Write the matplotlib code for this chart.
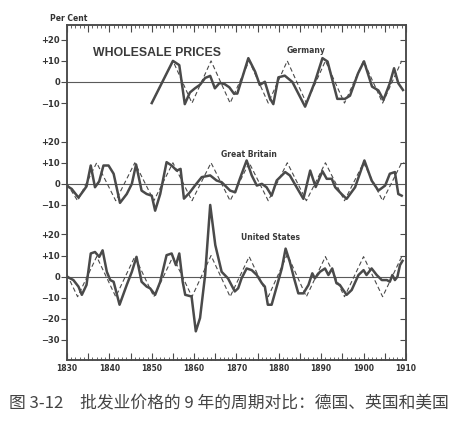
import numpy as np
import matplotlib.pyplot as plt
import matplotlib.ticker as mticker

plt.rcParams['font.family'] = ['DejaVu Sans', 'Noto Sans CJK SC']

de_years = [1850.0, 1855.0, 1856.5, 1857.8, 1859.0, 1860.2, 1861.4, 1862.6, 1863.8,
            1864.9, 1866.0, 1867.2, 1868.3, 1869.4, 1870.2, 1872.8, 1874.4, 1875.5,
            1876.7, 1877.9, 1878.7, 1879.9, 1881.4, 1883.2, 1886.2, 1888.5, 1890.3,
            1891.5, 1893.8, 1895.6, 1896.8, 1898.7, 1900.1, 1902.0, 1903.5, 1904.7,
            1906.2, 1907.2, 1908.2, 1909.3]
de_values = [-10, 10, 8, -10.5, -5, -3, -1.3, 1.9, 2.9,
             -3, -0.5, -1, -2.5, -5.5, -5.5, 11.3, 4.9, -1.4,
             0.1, -7.8, -10.5, 2.2, 3, 0, -11.7, 0, 11.3,
             9.7, -8, -8, -6.5, 4.1, 9.8, -2.2, -4, -8.5,
             -0.6, 6.5, -0.6, -3.8]
# Germany, 9-year cycle (dashed)
de_cyc_years = [1850, 1855, 1859.5, 1864, 1868.5, 1873, 1877.5, 1882, 1886.5,
                1891, 1895.5, 1900, 1904.5, 1909]
de_cyc_values = [-10, 10, -10, 10, -10, 10, -10, 10, -10, 10, -10, 10, -10, 10]

# Great Britain
gb_years = [1830.0, 1831.1, 1832.7, 1833.9, 1834.6, 1835.6, 1836.6, 1837.6, 1838.6,
            1839.8, 1841.0, 1842.5, 1844.1, 1845.3, 1846.3, 1847.6, 1848.8, 1850.0,
            1850.8, 1852.0, 1853.5, 1854.7, 1855.9, 1856.8, 1857.6, 1859.0, 1860.2,
            1861.8, 1863.8, 1865.3, 1866.5, 1868.5, 1869.7, 1870.8, 1872.4, 1873.6,
            1874.8, 1876.0, 1877.1, 1878.3, 1879.5, 1880.7, 1881.5, 1882.6, 1884.2,
            1885.8, 1887.4, 1888.7, 1890.3, 1891.3, 1892.5, 1893.3, 1894.8, 1896.0,
            1898.0, 1900.2, 1901.9, 1903.5, 1905.1, 1906.2, 1907.4, 1908.2, 1909.0]
gb_values = [-1, -2.4, -6.5, -3.2, -1.2, 8.7, -1.6, 1.2, 8.7,
             8.7, 4.8, -9, -4.8, 0, 9.2, -3.2, -4.8, -5.6,
             -12.7, -4.8, 10.3, 8.7, 6.3, 7.1, -7, -4, -0.8,
             3.2, 4, 1.6, 0.8, -3.2, -4, 2.4, 11.1, 4,
             -0.8, 0, -1.6, -5.6, 1.6, 4, 5.6, 4, -1.6,
             -7.1, 6.3, -1.5, 6, 2.4, 2.4, -1.6, -4.8, -7.1,
             -1.6, 11.1, 1.6, -3.2, -0.8, 4.8, 5.6, -4.8, -5.6]
gb_cyc_years = [1830, 1832.5, 1837, 1841.5, 1846, 1850.5, 1855, 1859.5, 1864, 1868.5,
                1873, 1877.5, 1882, 1886.5, 1891, 1895.5, 1900, 1904.5, 1909, 1909.6]
gb_cyc_values = [0, -8, 10, -8, 10, -8, 10, -8, 10, -8,
                 10, -8, 10, -8, 10, -8, 10, -8, 10, 10]

# United States
us_years = [1830.0, 1831.5, 1832.7, 1833.5, 1834.6, 1835.6, 1836.6, 1837.6, 1838.4,
            1839.4, 1840.2, 1841.0, 1842.4, 1844.1, 1845.3, 1846.4, 1847.6, 1848.8,
            1849.6, 1850.8, 1852.0, 1853.5, 1854.7, 1855.7, 1856.5, 1857.3, 1857.9,
            1859.4, 1860.4, 1861.4, 1862.6, 1863.8, 1865.0, 1866.5, 1868.0, 1869.6,
            1870.4, 1871.2, 1872.4, 1873.6, 1874.8, 1876.0, 1876.7, 1877.4, 1878.3,
            1879.5, 1880.7, 1881.6, 1882.6, 1883.6, 1884.6, 1885.8, 1887.0, 1887.9,
            1888.5, 1889.7, 1890.9, 1891.7, 1892.6, 1893.6, 1894.4, 1895.2, 1896.0,
            1897.2, 1898.8, 1900.0, 1900.7, 1901.9, 1903.1, 1904.3, 1905.5, 1906.2,
            1906.8, 1907.4, 1908.0, 1908.6, 1909.2]
us_values = [0, -1.6, -4.7, -8.6, -3.9, 11, 11.7, 9.4, 12.5,
             2.3, -1.6, -2.4, -13.3, -3.9, 2.3, 9.4, -2.4, -4.7,
             -5.5, -8.6, -2.4, 10.2, 11, 5.5, 11, -2.4, -8.6,
             -9.4, -25.9, -19.6, 0.8, 34, 15, 2.3, -0.8, -7,
             -5.5, -0.8, 3.9, 3.1, 0.8, -3.1, -4.7, -13.3, -13.3,
             -4.7, 3.9, 13.3, 7, -0.8, -7.9, -7.9, -3.9, 1.6,
             -0.8, 2.3, 3.9, 0.8, 3.9, -3.1, -3.9, -6.3, -8.6,
             -6.3, 0.8, 3.1, 0.8, 3.9, 0.8, -1.6, -1.6, -2.4,
             0.8, -1.6, 0, 5.5, 7.5]
us_cyc_years = [1830, 1832.5, 1837, 1841.5, 1846, 1850.5, 1855, 1859.5, 1864, 1868.5,
                1873, 1877.5, 1882, 1886.5, 1891, 1895.5, 1900, 1904.5, 1909, 1909.6]
us_cyc_values = [1, -9.5, 9.5, -9.5, 9.5, -9.5, 9.5, -9.5, 10, -9.5,
                 9.5, -9.5, 10.5, -9.5, 9.5, -9.5, 9.5, -9.5, 9.5, 9.5]

# panel baselines on a common scale
offsets = {'de': 92.3, 'gb': 44.0, 'us': 0.0}
de_ticks = [20, 10, 0, -10]
gb_ticks = [20, 10, 0, -10]
us_ticks = [20, 10, 0, -10, -20, -30]

ink = '#4a4a4a'
fig = plt.figure(figsize=(4.72, 4.36), dpi=100)
ax = fig.add_axes([0.142, 0.1743, 0.718, 0.7683])

series = [
    (de_years, de_values, de_cyc_years, de_cyc_values, offsets['de']),
    (gb_years, gb_values, gb_cyc_years, gb_cyc_values, offsets['gb']),
    (us_years, us_values, us_cyc_years, us_cyc_values, offsets['us']),
]
for yrs, vals, cyrs, cvals, off in series:
    ax.axhline(off, color='#5a5a5a', lw=0.8, zorder=1)
    ax.plot(cyrs, np.array(cvals) + off, color=ink, lw=0.8, ls=(0, (4, 2.5)), zorder=2)
    ax.plot(yrs, np.array(vals) + off, color=ink, lw=1.8, zorder=3)

ax.set_xlim(1830, 1910)
ax.set_ylim(-39.5, 119.3)

ytick_pos = []
ytick_lab = []
for ticks, off in [(de_ticks, offsets['de']), (gb_ticks, offsets['gb']), (us_ticks, offsets['us'])]:
    for t in ticks:
        ytick_pos.append(t + off)
        ytick_lab.append('0' if t == 0 else ('+%d' % t if t > 0 else '\u2212%d' % -t))
ax.set_yticks(ytick_pos)
ax.set_yticklabels(ytick_lab)
ax.tick_params(axis='y', direction='out', length=4, width=0.8, color=ink,
               labelsize=6, labelcolor='#333333', pad=1)
for lab in ax.get_yticklabels():
    lab.set_fontweight('bold')

# right side ticks, inward, no labels
axr = ax.twinx()
axr.set_ylim(ax.get_ylim())
axr.set_yticks([p for p, l in zip(ytick_pos, ytick_lab) if l != '0'])
axr.set_yticklabels([])
axr.tick_params(axis='y', direction='in', length=4, width=0.8, color=ink)

ax.xaxis.set_major_locator(mticker.MultipleLocator(5))
ax.xaxis.set_minor_locator(mticker.MultipleLocator(1))
ax.xaxis.set_major_formatter(mticker.FuncFormatter(lambda v, p: '%d' % v if int(round(v)) % 10 == 0 else ''))
ax.tick_params(axis='x', which='both', direction='in', top=True, bottom=True,
               color=ink, labelsize=5.5, labelcolor='#333333', pad=3)
ax.tick_params(axis='x', which='major', length=5, width=0.8)
ax.tick_params(axis='x', which='minor', length=2.5, width=0.6)
for lab in ax.get_xticklabels():
    lab.set_fontweight('bold')

for a in (ax, axr):
    for s in a.spines.values():
        s.set_color(ink)
        s.set_linewidth(1.1)

fig.text(0.106, 0.952, 'Per Cent', fontsize=5.5, fontweight='bold', color='#333333')
fig.text(0.197, 0.872, 'WHOLESALE PRICES', fontsize=8.8, fontweight='bold', color='#3a3a3a',
         family='Liberation Sans')
fig.text(0.648, 0.878, 'Germany', fontsize=5.5, fontweight='bold', color='#3a3a3a', ha='center')
fig.text(0.528, 0.641, 'Great Britain', fontsize=5.5, fontweight='bold', color='#3a3a3a', ha='center')
fig.text(0.574, 0.450, 'United States', fontsize=5.5, fontweight='bold', color='#3a3a3a', ha='center')

fig.text(0.02, 0.076, '图 3-12\u3000批发业价格的 9 年的周期对比：德国、英国和美国',
         fontsize=12.1, color='#444444', va='center', family=['Noto Sans CJK SC', 'DejaVu Sans'])

fig.savefig('out.png', dpi=100)
